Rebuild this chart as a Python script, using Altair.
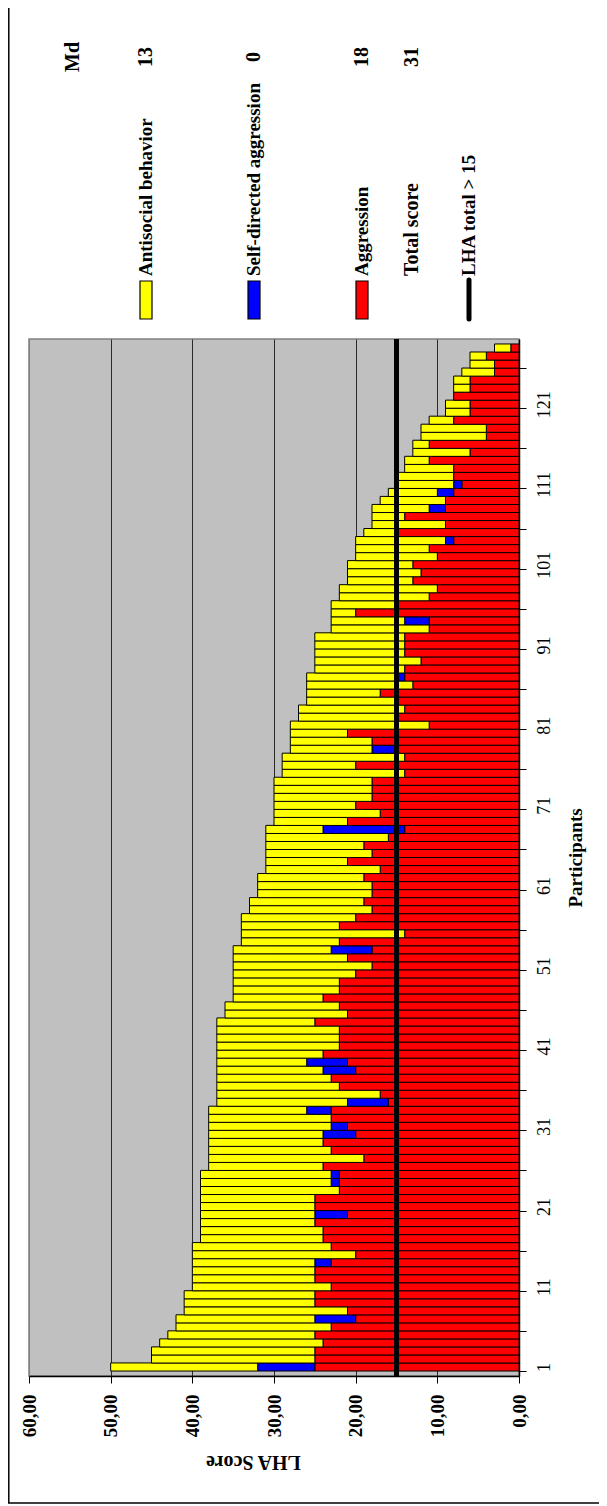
import altair as alt
import pandas as pd

FONT = "Liberation Serif"

participants = list(range(1, 129))

aggression = [
    25, 25, 25, 24, 25, 23, 20, 21, 25, 25,
    23, 25, 25, 23, 20, 23, 24, 24, 25, 21,
    25, 25, 22, 22, 22, 24, 19, 23, 24, 20,
    21, 23, 23, 16, 17, 22, 23, 20, 21, 24,
    22, 22, 22, 25, 21, 22, 24, 22, 22, 20,
    18, 21, 18, 22, 14, 22, 20, 18, 19, 18,
    18, 19, 17, 21, 18, 19, 16, 14, 21, 17,
    20, 18, 18, 18, 14, 20, 14, 15, 18, 21,
    11, 15, 14, 15, 17, 13, 14, 14, 12, 14,
    14, 14, 11, 11, 20, 15, 11, 10, 13, 12,
    13, 10, 11, 8, 15, 9, 14, 9, 9, 8,
    7, 8, 8, 11, 6, 11, 4, 4, 8, 6,
    6, 8, 6, 6, 3, 3, 4, 1,
]
self_directed = [
    7, 0, 0, 0, 0, 0, 5, 0, 0, 0,
    0, 0, 0, 2, 0, 0, 0, 0, 0, 4,
    0, 0, 0, 1, 1, 0, 0, 0, 0, 4,
    2, 0, 3, 5, 0, 0, 0, 4, 5, 0,
    0, 0, 0, 0, 0, 0, 0, 0, 0, 0,
    0, 0, 5, 0, 0, 0, 0, 0, 0, 0,
    0, 0, 0, 0, 0, 0, 0, 10, 0, 0,
    0, 0, 0, 0, 0, 0, 0, 3, 0, 0,
    0, 0, 0, 0, 0, 0, 1, 0, 0, 0,
    0, 0, 0, 3, 0, 0, 0, 0, 0, 0,
    0, 0, 0, 1, 0, 0, 0, 2, 0, 2,
    1, 0, 0, 0, 0, 0, 0, 0, 0, 0,
    0, 0, 0, 0, 0, 0, 0, 0,
]
antisocial = [
    18, 20, 20, 20, 18, 19, 17, 20, 16, 16,
    17, 15, 15, 15, 20, 17, 15, 15, 14, 14,
    14, 14, 17, 16, 16, 14, 19, 15, 14, 14,
    15, 15, 12, 16, 20, 15, 14, 13, 11, 13,
    15, 15, 15, 12, 15, 14, 11, 13, 13, 15,
    17, 14, 12, 12, 20, 12, 14, 15, 14, 14,
    14, 13, 14, 10, 13, 12, 15, 7, 9, 13,
    10, 12, 12, 12, 15, 9, 15, 10, 10, 7,
    17, 12, 13, 11, 9, 13, 11, 11, 13, 11,
    11, 11, 12, 9, 3, 8, 11, 12, 8, 9,
    8, 10, 9, 11, 4, 9, 4, 7, 8, 6,
    7, 7, 6, 3, 7, 2, 8, 8, 3, 3,
    3, 0, 2, 2, 4, 3, 2, 2,
]

categories = ["Aggression", "Self-directed aggression", "Antisocial behavior"]
cat_colors = ["#FF0000", "#0000FF", "#FFFF00"]
score_ticks = [0, 10, 20, 30, 40, 50, 60]
participant_ticks = [k * 5 + 0.5 for k in range(26)]
lha_threshold = [15]

legend_labels = ["Antisocial behavior", "Self-directed aggression", "Aggression",
                 "Total score", "LHA total > 15"]
median_header = "Md"
median_values = ["13", "0", "18", "31"]

series = [aggression, self_directed, antisocial]
rows = []
for i, p in enumerate(participants):
    for o, (name, vals) in enumerate(zip(categories, series)):
        if vals[i] > 0:
            rows.append({"participant": p, "category": name, "score": vals[i], "ord": o})
df = pd.DataFrame(rows)

W, H = 490, 1037
band = H / len(participants)

x_axis = alt.Axis(
    title="LHA Score", values=score_ticks,
    labelExpr="replace(format(datum.value, '.2f'), '.', ',')",
    labelAngle=270, labelAlign="right", labelBaseline="middle", labelPadding=11,
    labelFont=FONT, labelFontSize=19, labelFontWeight="bold", labelColor="black",
    labelOverlap=False,
    tickColor="black", tickSize=7, tickWidth=1,
    domainColor="black", domainWidth=1.5,
    grid=True, gridColor={"condition": {"test": "datum.value === 60 || datum.value === 0", "value": "#808080"}, "value": "#2a2a2a"},
    gridWidth=1,
    titleAngle=180, titleX=224, titleY=85, titleAlign="center", titleBaseline="middle",
    titleFont=FONT, titleFontSize=20, titleFontWeight="bold", titleColor="black",
)

y_axis = alt.Axis(
    title="Participants", orient="right", values=participant_ticks,
    labelExpr="(datum.value - 0.5) % 10 == 0 ? format(datum.value + 0.5, 'd') : ''",
    labelAngle=270, labelAlign="center", labelBaseline="top", labelPadding=9,
    labelOffset=-4, labelOverlap=False,
    labelFont=FONT, labelFontSize=18, labelColor="black",
    tickColor="black", tickSize=7, tickWidth=1,
    domainColor="black", domainWidth=1.5, grid=False,
    titleAngle=270, titleX=56, titleY=H / 2, titleAlign="center", titleBaseline="middle",
    titleFont=FONT, titleFontSize=19, titleFontWeight="bold", titleColor="black",
)

bars = alt.Chart(df).mark_bar(orient="horizontal", size=band, stroke="black", strokeWidth=1).encode(
    y=alt.Y("participant:Q", scale=alt.Scale(domain=[0.5, 128.5], nice=False, zero=False), axis=y_axis),
    x=alt.X("score:Q", stack="zero", scale=alt.Scale(domain=[0, 60], reverse=True, nice=False), axis=x_axis),
    color=alt.Color("category:N", scale=alt.Scale(domain=categories, range=cat_colors), legend=None),
    order=alt.Order("ord:Q", sort="ascending"),
)

lha = alt.Chart(pd.DataFrame({"score": lha_threshold})).mark_rule(color="black", strokeWidth=5).encode(
    x=alt.X("score:Q", title="LHA Score")
)

one = pd.DataFrame({"k": [0]})


def txt(text, x, y, size, align="center", weight="bold"):
    return alt.Chart(one).mark_text(
        text=text, angle=270, align=align, baseline="middle", font=FONT,
        fontSize=size, fontWeight=weight, color="black"
    ).encode(x=alt.value(x), y=alt.value(y))


col_x = [117, 225, 333, 383, 440]
label_sizes = [19, 19, 19, 20, 19]
layers = [bars, lha]

layers.append(txt(median_header, 44, -282, 20))
for cx, mv in zip(col_x[:4], median_values):
    layers.append(txt(mv, cx, -282, 20))
for cx, lab, fs in zip(col_x, legend_labels, label_sizes):
    layers.append(txt(lab, cx, -63, fs, align="left"))

swatch_colors = [cat_colors[2], cat_colors[1], cat_colors[0]]
for cx, colr in zip(col_x[:3], swatch_colors):
    layers.append(
        alt.Chart(one).mark_rect(fill=colr, stroke="black", strokeWidth=1.2).encode(
            x=alt.value(cx - 6), x2=alt.value(cx + 6), y=alt.value(-58), y2=alt.value(-20)
        )
    )
layers.append(
    alt.Chart(one).mark_rule(color="black", strokeWidth=5, strokeCap="round").encode(
        x=alt.value(col_x[4]), y=alt.value(-59), y2=alt.value(-20)
    )
)

# outer frame
layers.append(
    alt.Chart(one).mark_rule(color="black", strokeWidth=1.5).encode(
        x=alt.value(-20.2), y=alt.value(-331), y2=alt.value(1164)
    )
)
layers.append(
    alt.Chart(one).mark_rule(color="black", strokeWidth=1.5).encode(
        x=alt.value(-21), x2=alt.value(570), y=alt.value(1164)
    )
)

chart = alt.layer(*layers).properties(
    width=W, height=H,
    padding={"left": 21, "top": 331, "right": 80, "bottom": 129},
    autosize=alt.AutoSizeParams(type="none"),
    background="white",
).configure_view(
    fill="#C0C0C0", stroke="#808080", strokeWidth=1.5
)

chart.save("out.html", embed_options={"renderer": "svg", "actions": False})
